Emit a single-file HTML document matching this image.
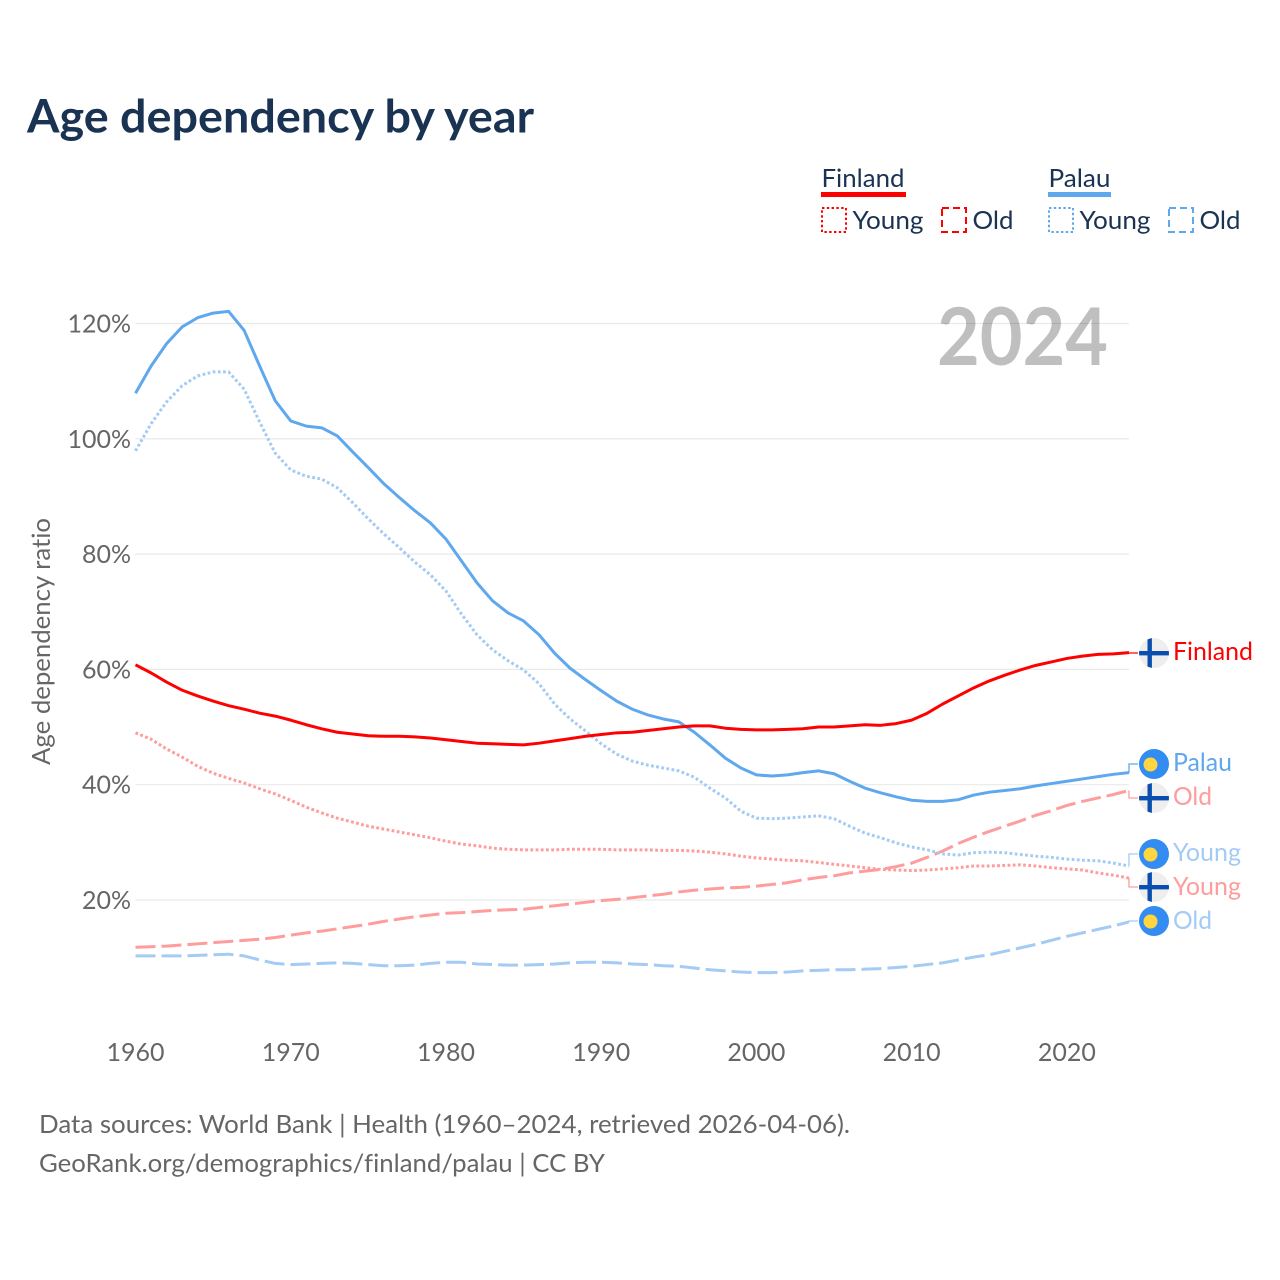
<!DOCTYPE html>
<html lang="en">
<head>
<meta charset="utf-8">
<title>Age dependency by year</title>
<style>
html,body{margin:0;padding:0;background:#fff;width:1280px;height:1280px;overflow:hidden}
svg{display:block}
text{font-family:"Lato","Carlito","Liberation Sans",sans-serif;font-variant-ligatures:none}
.dk{fill:#1a3353}
.gy{fill:#666}
</style>
</head>
<body>
<svg id="chart" xmlns="http://www.w3.org/2000/svg" width="1280" height="1280" viewBox="0 0 1280 1280">
  <rect width="1280" height="1280" fill="#fff"/>
  <text class="dk" x="27" y="132.5" font-size="46" font-weight="700" textLength="507" lengthAdjust="spacingAndGlyphs">Age dependency by year</text>

  <g>
    <text class="dk" x="821.5" y="187" font-size="25" textLength="83" lengthAdjust="spacingAndGlyphs">Finland</text>
    <rect x="821" y="192" width="85" height="5" fill="#ff0000"/>
    <rect x="822" y="208" width="24" height="24" fill="none" stroke="#ff0000" stroke-width="2" stroke-dasharray="2.4 2.4"/>
    <text class="dk" x="852.5" y="229" font-size="25" textLength="71" lengthAdjust="spacingAndGlyphs">Young</text>
    <rect x="942" y="208" width="24" height="24" fill="none" stroke="#ff0000" stroke-width="2" stroke-dasharray="7 4"/>
    <text class="dk" x="972.5" y="229" font-size="25" textLength="41" lengthAdjust="spacingAndGlyphs">Old</text>

    <text class="dk" x="1048.5" y="187" font-size="25" textLength="62" lengthAdjust="spacingAndGlyphs">Palau</text>
    <rect x="1048" y="192" width="63" height="5" fill="#5fa8ee"/>
    <rect x="1049" y="208" width="24" height="24" fill="none" stroke="#5fa8ee" stroke-width="2" stroke-dasharray="2.4 2.4"/>
    <text class="dk" x="1079.5" y="229" font-size="25" textLength="71" lengthAdjust="spacingAndGlyphs">Young</text>
    <rect x="1169" y="208" width="24" height="24" fill="none" stroke="#5fa8ee" stroke-width="2" stroke-dasharray="7 4"/>
    <text class="dk" x="1199.5" y="229" font-size="25" textLength="41" lengthAdjust="spacingAndGlyphs">Old</text>
  </g>

  <g id="grid"></g>
  <g id="yticks"></g>
  <g id="xticks"></g>

  <text x="937" y="365" font-size="80" font-weight="700" fill="#000" fill-opacity="0.25" textLength="171" lengthAdjust="spacingAndGlyphs">2024</text>
  <text class="gy" transform="translate(50,641.5) rotate(-90)" text-anchor="middle" font-size="25" textLength="247" lengthAdjust="spacingAndGlyphs">Age dependency ratio</text>

  <g id="series"></g>
  <g id="connectors"></g>

  <defs>
    <clipPath id="fi-clip-a"><circle cx="1154" cy="653" r="15"/></clipPath>
    <clipPath id="fi-clip-b"><circle cx="1154" cy="798" r="15"/></clipPath>
    <clipPath id="fi-clip-c"><circle cx="1154" cy="887" r="15"/></clipPath>
  </defs>

  <g clip-path="url(#fi-clip-a)">
    <rect x="1139" y="638" width="30" height="30" fill="#eeeeee"/><rect x="1139" y="651" width="30" height="4.4" fill="#0a4fb0"/><rect x="1147.5" y="638" width="4.4" height="30" fill="#0a4fb0"/>
  </g>
  <g><circle cx="1154" cy="764" r="15" fill="#338cf2"/><circle cx="1150.5" cy="764.5" r="7" fill="#ffd63f"/></g>
  <g clip-path="url(#fi-clip-b)">
    <rect x="1139" y="783" width="30" height="30" fill="#eeeeee"/><rect x="1139" y="796" width="30" height="4.4" fill="#0a4fb0"/><rect x="1147.5" y="783" width="4.4" height="30" fill="#0a4fb0"/>
  </g>
  <g><circle cx="1154" cy="854" r="15" fill="#338cf2"/><circle cx="1150.5" cy="854.5" r="7" fill="#ffd63f"/></g>
  <g clip-path="url(#fi-clip-c)">
    <rect x="1139" y="872" width="30" height="30" fill="#eeeeee"/><rect x="1139" y="885" width="30" height="4.4" fill="#0a4fb0"/><rect x="1147.5" y="872" width="4.4" height="30" fill="#0a4fb0"/>
  </g>
  <g><circle cx="1154" cy="921" r="15" fill="#338cf2"/><circle cx="1150.5" cy="921.5" r="7" fill="#ffd63f"/></g>

  <text x="1173" y="660" font-size="25" fill="#ff0000" textLength="80" lengthAdjust="spacingAndGlyphs">Finland</text>
  <text x="1173" y="771" font-size="25" fill="#5fa8ee" textLength="59" lengthAdjust="spacingAndGlyphs">Palau</text>
  <text x="1173" y="805" font-size="25" fill="#ff9c9c" textLength="39" lengthAdjust="spacingAndGlyphs">Old</text>
  <text x="1173" y="861" font-size="25" fill="#a3cbf4" textLength="68" lengthAdjust="spacingAndGlyphs">Young</text>
  <text x="1173" y="895" font-size="25" fill="#ff9c9c" textLength="68" lengthAdjust="spacingAndGlyphs">Young</text>
  <text x="1173" y="929" font-size="25" fill="#a3cbf4" textLength="39" lengthAdjust="spacingAndGlyphs">Old</text>

  <text class="gy" x="39" y="1133" font-size="25" textLength="811" lengthAdjust="spacingAndGlyphs">Data sources: World Bank | Health (1960–2024, retrieved 2026-04-06).</text>
  <text class="gy" x="39" y="1172" font-size="25" textLength="566" lengthAdjust="spacingAndGlyphs">GeoRank.org/demographics/finland/palau | CC BY</text>
</svg>

<script>
const startYear = 1960;
const endYear = 2024;
const xTickYears = [1960, 1970, 1980, 1990, 2000, 2010, 2020];
const yTickValues = [20, 40, 60, 80, 100, 120];

const finlandTotal = [
  60.8,59.4,57.8,56.4,55.4,54.5,53.7,53.1,52.4,51.9,
  51.2,50.4,49.7,49.1,48.8,48.5,48.4,48.4,48.3,48.1,
  47.8,47.5,47.2,47.1,47.0,46.9,47.2,47.6,48.0,48.4,
  48.7,49.0,49.1,49.4,49.7,50.0,50.2,50.2,49.8,49.6,
  49.5,49.5,49.6,49.7,50.0,50.0,50.2,50.4,50.3,50.6,
  51.2,52.4,54.0,55.4,56.8,58.0,59.0,59.9,60.7,61.3,
  61.9,62.3,62.6,62.7,62.9];
const finlandYoung = [
  49.0,47.9,46.2,44.8,43.2,42.0,41.1,40.3,39.3,38.4,
  37.3,36.1,35.1,34.2,33.5,32.8,32.3,31.8,31.3,30.8,
  30.2,29.7,29.4,29.0,28.8,28.7,28.7,28.7,28.8,28.8,
  28.8,28.7,28.7,28.7,28.6,28.6,28.5,28.3,28.0,27.6,
  27.3,27.1,26.9,26.8,26.5,26.2,25.9,25.6,25.3,25.2,
  25.1,25.2,25.4,25.6,25.9,25.9,26.0,26.1,25.9,25.6,
  25.4,25.2,24.7,24.3,23.8];
const finlandOld = [
  11.8,11.9,12.0,12.2,12.4,12.6,12.8,13.0,13.2,13.5,
  13.9,14.3,14.6,15.0,15.4,15.8,16.3,16.7,17.1,17.4,
  17.7,17.8,18.0,18.2,18.3,18.4,18.7,19.0,19.3,19.6,
  19.9,20.1,20.4,20.7,21.0,21.4,21.7,21.9,22.1,22.2,
  22.4,22.7,23.0,23.5,23.9,24.2,24.7,25.0,25.3,25.8,
  26.4,27.4,28.5,29.8,30.9,31.9,32.8,33.7,34.7,35.5,
  36.4,37.1,37.7,38.3,39.0];
const palauTotal = [
  107.9,112.6,116.5,119.4,121.0,121.8,122.1,118.8,112.6,106.6,
  103.1,102.2,101.9,100.5,97.7,95.0,92.2,89.8,87.5,85.4,
  82.6,78.8,75.0,71.9,69.8,68.4,66.0,62.8,60.2,58.2,
  56.3,54.5,53.1,52.1,51.4,50.9,49.1,46.9,44.6,42.9,
  41.7,41.5,41.7,42.1,42.4,41.9,40.6,39.4,38.6,37.9,
  37.3,37.1,37.1,37.4,38.2,38.7,39.0,39.3,39.8,40.2,
  40.6,41.0,41.4,41.8,42.1];
const palauYoung = [
  97.9,102.6,106.4,109.2,110.9,111.6,111.6,108.6,102.9,97.5,
  94.6,93.5,93.0,91.5,88.9,86.1,83.5,81.1,78.6,76.4,
  73.6,69.6,66.0,63.4,61.5,59.9,57.5,54.0,51.4,49.3,
  47.1,45.3,44.1,43.4,42.9,42.4,41.3,39.4,37.7,35.4,
  34.2,34.1,34.2,34.4,34.6,34.1,32.8,31.6,30.8,29.9,
  29.2,28.7,28.0,27.8,28.2,28.3,28.2,27.9,27.6,27.4,
  27.1,26.9,26.8,26.4,25.9];
const palauOld = [
  10.3,10.3,10.3,10.3,10.4,10.5,10.6,10.3,9.6,9.0,
  8.8,8.9,9.0,9.1,9.0,8.8,8.6,8.6,8.7,9.0,
  9.2,9.2,8.9,8.8,8.7,8.7,8.8,8.9,9.1,9.2,
  9.2,9.1,8.9,8.8,8.6,8.5,8.2,7.9,7.7,7.5,
  7.4,7.4,7.5,7.7,7.8,7.9,7.9,8.0,8.1,8.3,
  8.5,8.8,9.1,9.6,10.1,10.5,11.1,11.7,12.3,13.0,
  13.7,14.3,14.9,15.5,16.2];

const NS = 'http://www.w3.org/2000/svg';
const plotLeft = 135.5, plotRight = 1129;
function xScale(year) {
  return plotLeft + (year - startYear) * (plotRight - plotLeft) / (endYear - startYear);
}
function yScale(value) {
  return 1015.3 - value * 5.765;
}
function make(tag, attrs, parent) {
  const el = document.createElementNS(NS, tag);
  for (const k in attrs) el.setAttribute(k, attrs[k]);
  parent.appendChild(el);
  return el;
}
function linePath(values) {
  return values.map((v, i) => (i ? 'L' : 'M') + xScale(startYear + i).toFixed(2) + ',' + yScale(v).toFixed(2)).join('');
}

const gridG = document.getElementById('grid');
const yG = document.getElementById('yticks');
const xG = document.getElementById('xticks');
const seriesG = document.getElementById('series');
const connG = document.getElementById('connectors');

yTickValues.forEach(function (v) {
  const gl = make('line', {x1: plotLeft, x2: plotRight, y1: yScale(v), y2: yScale(v), stroke: '#e9e9e9', 'stroke-width': 1.2}, gridG);
  
  
  const t = make('text', {x: 131, y: yScale(v) + 9, 'text-anchor': 'end', 'font-size': 25, fill: '#666'}, yG);
  
  
  t.textContent = v + '%';
});

xTickYears.forEach(function (yr) {
  const t = make('text', {x: xScale(yr), y: 1061, 'text-anchor': 'middle', 'font-size': 25, fill: '#666'}, xG);
  
  
  t.textContent = yr;
});

function drawSeries(values, color, dash) {
  const attrs = {d: linePath(values), fill: 'none', stroke: color, 'stroke-width': 3, 'stroke-linejoin': 'round'};
  if (dash) attrs['stroke-dasharray'] = dash;
  return make('path', attrs, seriesG);
}
function drawConnector(value, labelY, color) {
  const y = yScale(value);
  const p = make('path', {d: 'M1129,' + y.toFixed(2) + 'V' + labelY + 'H1138', fill: 'none', stroke: color, 'stroke-width': 1.3}, connG);
  return p;
}

const lineFY = drawSeries(finlandYoung, '#ff9c9c', '2.8 2.4');


const lineFO = drawSeries(finlandOld, '#ff9c9c', '20 6');


const linePY = drawSeries(palauYoung, '#a3cbf4', '2.8 2.4');


const linePO = drawSeries(palauOld, '#a3cbf4', '20 6');


const linePT = drawSeries(palauTotal, '#5fa8ee');


const lineFT = drawSeries(finlandTotal, '#ff0000');



const c1 = drawConnector(finlandTotal[finlandTotal.length - 1], 653, '#ff0000');


const c2 = drawConnector(palauTotal[palauTotal.length - 1], 764, '#5fa8ee');


const c3 = drawConnector(finlandOld[finlandOld.length - 1], 798, '#ff9c9c');


const c4 = drawConnector(palauYoung[palauYoung.length - 1], 854, '#a3cbf4');


const c5 = drawConnector(finlandYoung[finlandYoung.length - 1], 887, '#ff9c9c');


const c6 = drawConnector(palauOld[palauOld.length - 1], 921, '#a3cbf4');


</script>
</body>
</html>
